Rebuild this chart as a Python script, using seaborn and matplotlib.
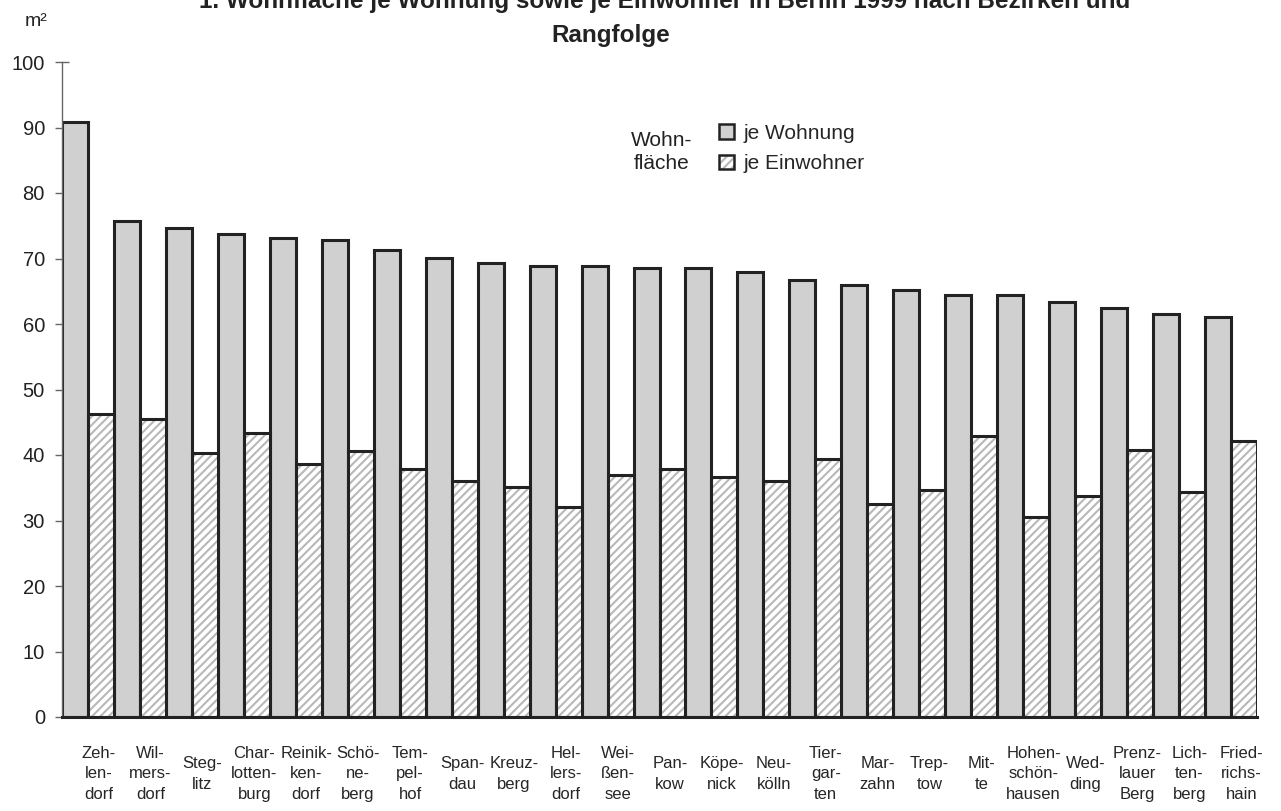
import numpy as np
import pandas as pd
import matplotlib
matplotlib.use("Agg")
import matplotlib.pyplot as plt
from matplotlib.patches import Patch, Rectangle
import seaborn as sns


# 1. Data (m² per flat and per inhabitant, ranked)

bezirke = [
    "Zeh-\nlen-\ndorf", "Wil-\nmers-\ndorf", "Steg-\nlitz", "Char-\nlotten-\nburg",
    "Reinik-\nken-\ndorf", "Schö-\nne-\nberg", "Tem-\npel-\nhof", "Span-\ndau",
    "Kreuz-\nberg", "Hel-\nlers-\ndorf", "Wei-\nßen-\nsee", "Pan-\nkow",
    "Köpe-\nnick", "Neu-\nkölln", "Tier-\ngar-\nten", "Mar-\nzahn",
    "Trep-\ntow", "Mit-\nte", "Hohen-\nschön-\nhausen", "Wed-\nding",
    "Prenz-\nlauer\nBerg", "Lich-\nten-\nberg", "Fried-\nrichs-\nhain",
]
je_wohnung = [
    90.8, 75.7, 74.6, 73.8, 73.1, 72.8, 71.3, 70.1, 69.3, 68.9, 68.9, 68.5,
    68.5, 67.9, 66.7, 65.9, 65.2, 64.4, 64.4, 63.3, 62.4, 61.6, 61.0,
]
je_einwohner = [
    46.2, 45.5, 40.3, 43.4, 38.6, 40.6, 37.8, 36.0, 35.1, 32.0, 37.0, 37.8,
    36.6, 36.0, 39.4, 32.5, 34.6, 42.9, 30.5, 33.8, 40.8, 34.3, 42.1,
]
serien = ["je Wohnung", "je Einwohner"]

df = pd.DataFrame({
    "Bezirk": bezirke * 2,
    "Art": [serien[0]] * len(bezirke) + [serien[1]] * len(bezirke),
    "Wert": je_wohnung + je_einwohner,
})


# 2. Style

sns.set_style("white")
plt.rcParams["font.family"] = ["Liberation Sans", "DejaVu Sans"]
plt.rcParams["hatch.linewidth"] = 1.5

grau = "#d0d0d0"
kante = "#222222"
schraffur = "#b8b8b8"

fig = plt.figure(figsize=(12.81, 8.11), dpi=100)
ax = fig.add_axes([62 / 1281, 1 - 717 / 811, 1195 / 1281, 655 / 811])


# 3. Bars

sns.barplot(
    data=df, x="Bezirk", y="Wert", hue="Art", order=bezirke, hue_order=serien,
    palette=[grau, "white"], saturation=1, width=1, dodge=True,
    edgecolor=kante, linewidth=2.2, legend=False, ax=ax,
)

# hatched bars: grey hatch lines, black outline drawn on top
for p in ax.containers[1]:
    p.set_hatch("////")
    p.set_edgecolor(schraffur)
    p.set_linewidth(0)
    ax.add_patch(Rectangle(p.get_xy(), p.get_width(), p.get_height(),
                           fill=False, edgecolor=kante, linewidth=2.2, zorder=3))


# 4. Axes

ax.set_xlim(-0.5, len(bezirke) - 0.5)
ax.set_ylim(0, 100)
ax.set_yticks(np.arange(0, 101, 10))
ax.set_xticks(np.arange(len(bezirke)) + 0.2)
ax.set_xticklabels(bezirke, fontsize=12, linespacing=1.45)
for lbl in ax.get_xticklabels():
    lbl.set_va("center")
ax.set_xticks(np.arange(-0.5, len(bezirke), 0.5), minor=True)
ax.tick_params(axis="x", which="major", length=0, pad=41)
ax.tick_params(axis="x", which="minor", length=3, color="#b0b0b0", direction="out")
ax.tick_params(axis="y", direction="inout", length=9.5, width=1, color="#666666",
               labelsize=14.5, labelcolor="#222222", pad=7.5, left=True)
ax.set_xlabel("")
ax.set_ylabel("")

sns.despine(ax=ax, top=True, right=True)
ax.spines["left"].set_color("#666666")
ax.spines["left"].set_linewidth(1)
ax.spines["bottom"].set_color(kante)
ax.spines["bottom"].set_linewidth(2.2)


# 5. Texts and legend

fig.text(665 / 1281, 1 - 8 / 811,
         "1. Wohnfläche je Wohnung sowie je Einwohner in Berlin 1999 nach Bezirken und",
         ha="center", va="baseline", fontsize=17.5, fontweight="bold", color="#222222")
fig.text(611 / 1281, 1 - 42 / 811, "Rangfolge",
         ha="center", va="baseline", fontsize=17.5, fontweight="bold", color="#222222")
fig.text(36 / 1281, 1 - 22 / 811, "m²", ha="center", va="center", fontsize=14, color="#222222")

fig.text(662 / 1281, 1 - 152 / 811, "Wohn-\nfläche", ha="center", va="center",
         fontsize=15, linespacing=1.3, color="#222222")

handles = [
    Patch(facecolor=grau, edgecolor=kante, linewidth=1.8),
    (Patch(facecolor="white", edgecolor=schraffur, hatch="////", linewidth=0),
     Patch(fill=False, edgecolor=kante, linewidth=1.8)),
]
fig.legend(handles, serien, loc="upper left",
           bbox_to_anchor=(719 / 1281, 1 - 124 / 811), frameon=False,
           fontsize=15, borderpad=0, borderaxespad=0, handlelength=0.7,
           handleheight=0.7, handletextpad=0.5, labelspacing=0.55)

fig.savefig("out.png", dpi=100)
